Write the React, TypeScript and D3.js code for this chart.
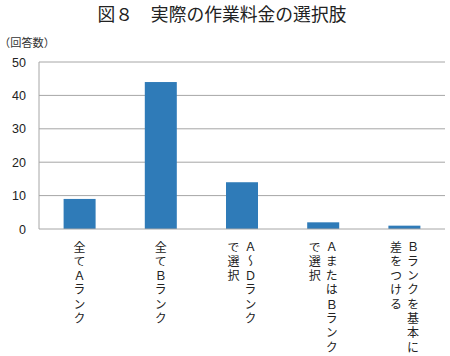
import React from "react";
import * as d3 from "d3";

const categories: string[][] = [
  ["全てＡランク"],
  ["全てＢランク"],
  ["Ａ～Ｄランク", "で選択"],
  ["ＡまたはＢランク", "で選択"],
  ["Ｂランクを基本に", "差をつける"],
];
const values: number[] = [9, 44, 14, 2, 1];
const yTicks: number[] = [0, 10, 20, 30, 40, 50];
const title = "図８　実際の作業料金の選択肢";
const yUnit = "（回答数）";

const W = 450;
const H = 356;
const left = 39;
const right = 445;
const top = 62;
const bottom = 229;
const jp = "'Noto Sans CJK JP', 'Noto Sans', sans-serif";

export default function App() {
  const band = d3.scaleBand<number>().domain(d3.range(categories.length)).range([left, right]);
  const y = d3.scaleLinear().domain([0, 50]).range([bottom, top]);

  return (
    <svg
      width={W}
      height={H}
      style={{ position: "absolute", left: 0, top: 0, background: "#fff" }}
    >
      <text x={222} y={21} textAnchor="middle" fontFamily={jp} fontSize={17.8} fill="#222">
        {title}
      </text>
      <text x={-1} y={47} fontFamily={jp} fontSize={11.2} fill="#333">
        {yUnit}
      </text>
      {yTicks.map((t) => (
        <g key={t}>
          {t > 0 && (
            <line x1={left} x2={right} y1={y(t)} y2={y(t)} stroke="#a6a6a6" strokeWidth={1} />
          )}
          <text
            x={26}
            y={y(t)}
            dy="0.36em"
            textAnchor="end"
            fontFamily="'Liberation Sans', Arial, sans-serif"
            fontSize={12.5}
            fill="#222"
          >
            {t}
          </text>
        </g>
      ))}
      {values.map((v, i) => (
        <rect
          key={i}
          x={band(i)! + band.bandwidth() / 2 - 16}
          y={y(v)}
          width={32}
          height={y(0) - y(v)}
          fill="#2f7bb8"
        />
      ))}
      <line x1={left} x2={left} y1={top} y2={bottom} stroke="#a6a6a6" strokeWidth={1} />
      <line x1={left} x2={right} y1={bottom} y2={bottom} stroke="#a6a6a6" strokeWidth={1} />
      {categories.map((lines, i) => {
        const cx = band(i)! + band.bandwidth() / 2;
        const n = lines.length;
        return lines.map((ln, j) => {
          const colX = cx + ((n - 1) / 2 - j) * 17;
          return (
            <text
              key={i + "-" + j}
              x={colX}
              y={241}
              fontFamily={jp}
              fontSize={12}
              letterSpacing={2.3}
              fill="#222"
              style={{ writingMode: "vertical-rl" } as any}
            >
              {ln}
            </text>
          );
        });
      })}
    </svg>
  );
}
